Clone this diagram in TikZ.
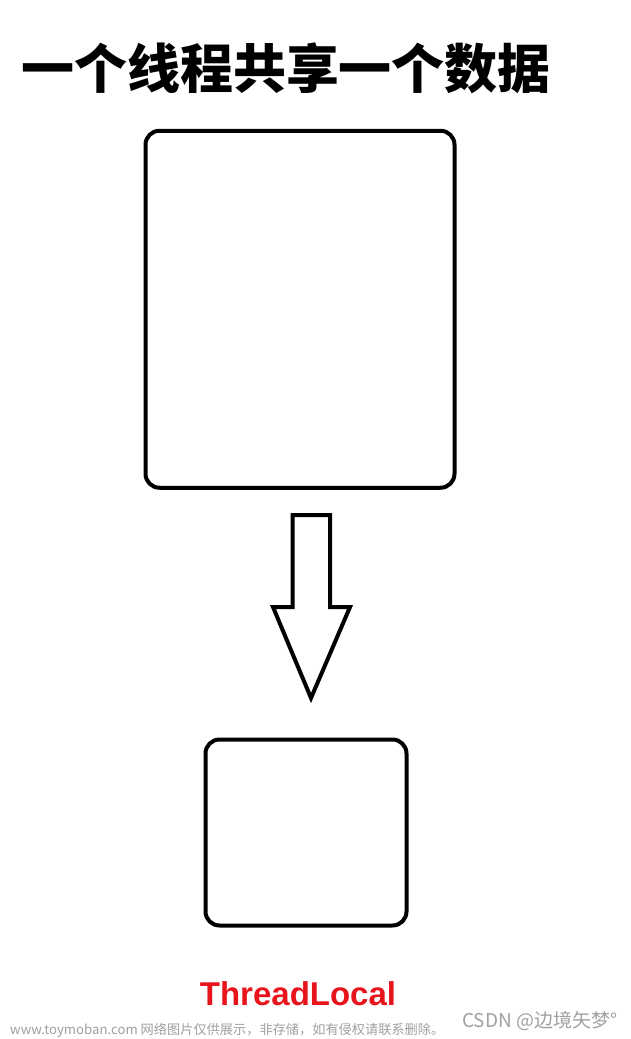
\documentclass[tikz,border=0pt]{standalone}
\usepackage{fontspec}
\setmainfont{Liberation Sans}
\newfontfamily\cjk{Noto Sans CJK SC}
\definecolor{tlred}{HTML}{E8141C}
\definecolor{wmgray}{HTML}{A0A0A0}
\begin{document}
\begin{tikzpicture}[x=1pt,y=-1pt,
  box/.style={draw=black,line width=4pt,rounded corners=14pt,inner sep=0pt},
  blockarrow/.style={draw=black,line width=4pt,line join=miter,fill=white}]
\useasboundingbox (0,0) rectangle (631,1039);
\node[inner sep=0pt,font=\cjk\bfseries\fontsize{53}{60}\selectfont] (title) at (286,68) {一个线程共享一个数据};
\node[box,minimum width=309pt,minimum height=357pt] (big) at (300,309.25) {};
\node[box,minimum width=201pt,minimum height=186pt] (small) at (306,832.5) {};
\draw[blockarrow] (292.5,515) -- (330,515) -- (330,607) -- (350,607) -- (311,698) -- (273,607) -- (292.5,607) -- cycle;
\node[inner sep=0pt,anchor=base,text=tlred,font=\bfseries\fontsize{33}{38}\selectfont] (tl) at (298,1005) {ThreadLocal};
\node[inner sep=0pt,anchor=base west,text=wmgray,font=\cjk\fontsize{13.2}{15}\selectfont] (wm) at (10,1034) {www.toymoban.com 网络图片仅供展示，非存储，如有侵权请联系删除。};
\node[inner sep=0pt,anchor=base west,text=wmgray,font=\cjk\fontsize{19}{21}\selectfont] (csdn) at (462,1027) {CSDN @边境矢梦°};
\end{tikzpicture}
\end{document}
